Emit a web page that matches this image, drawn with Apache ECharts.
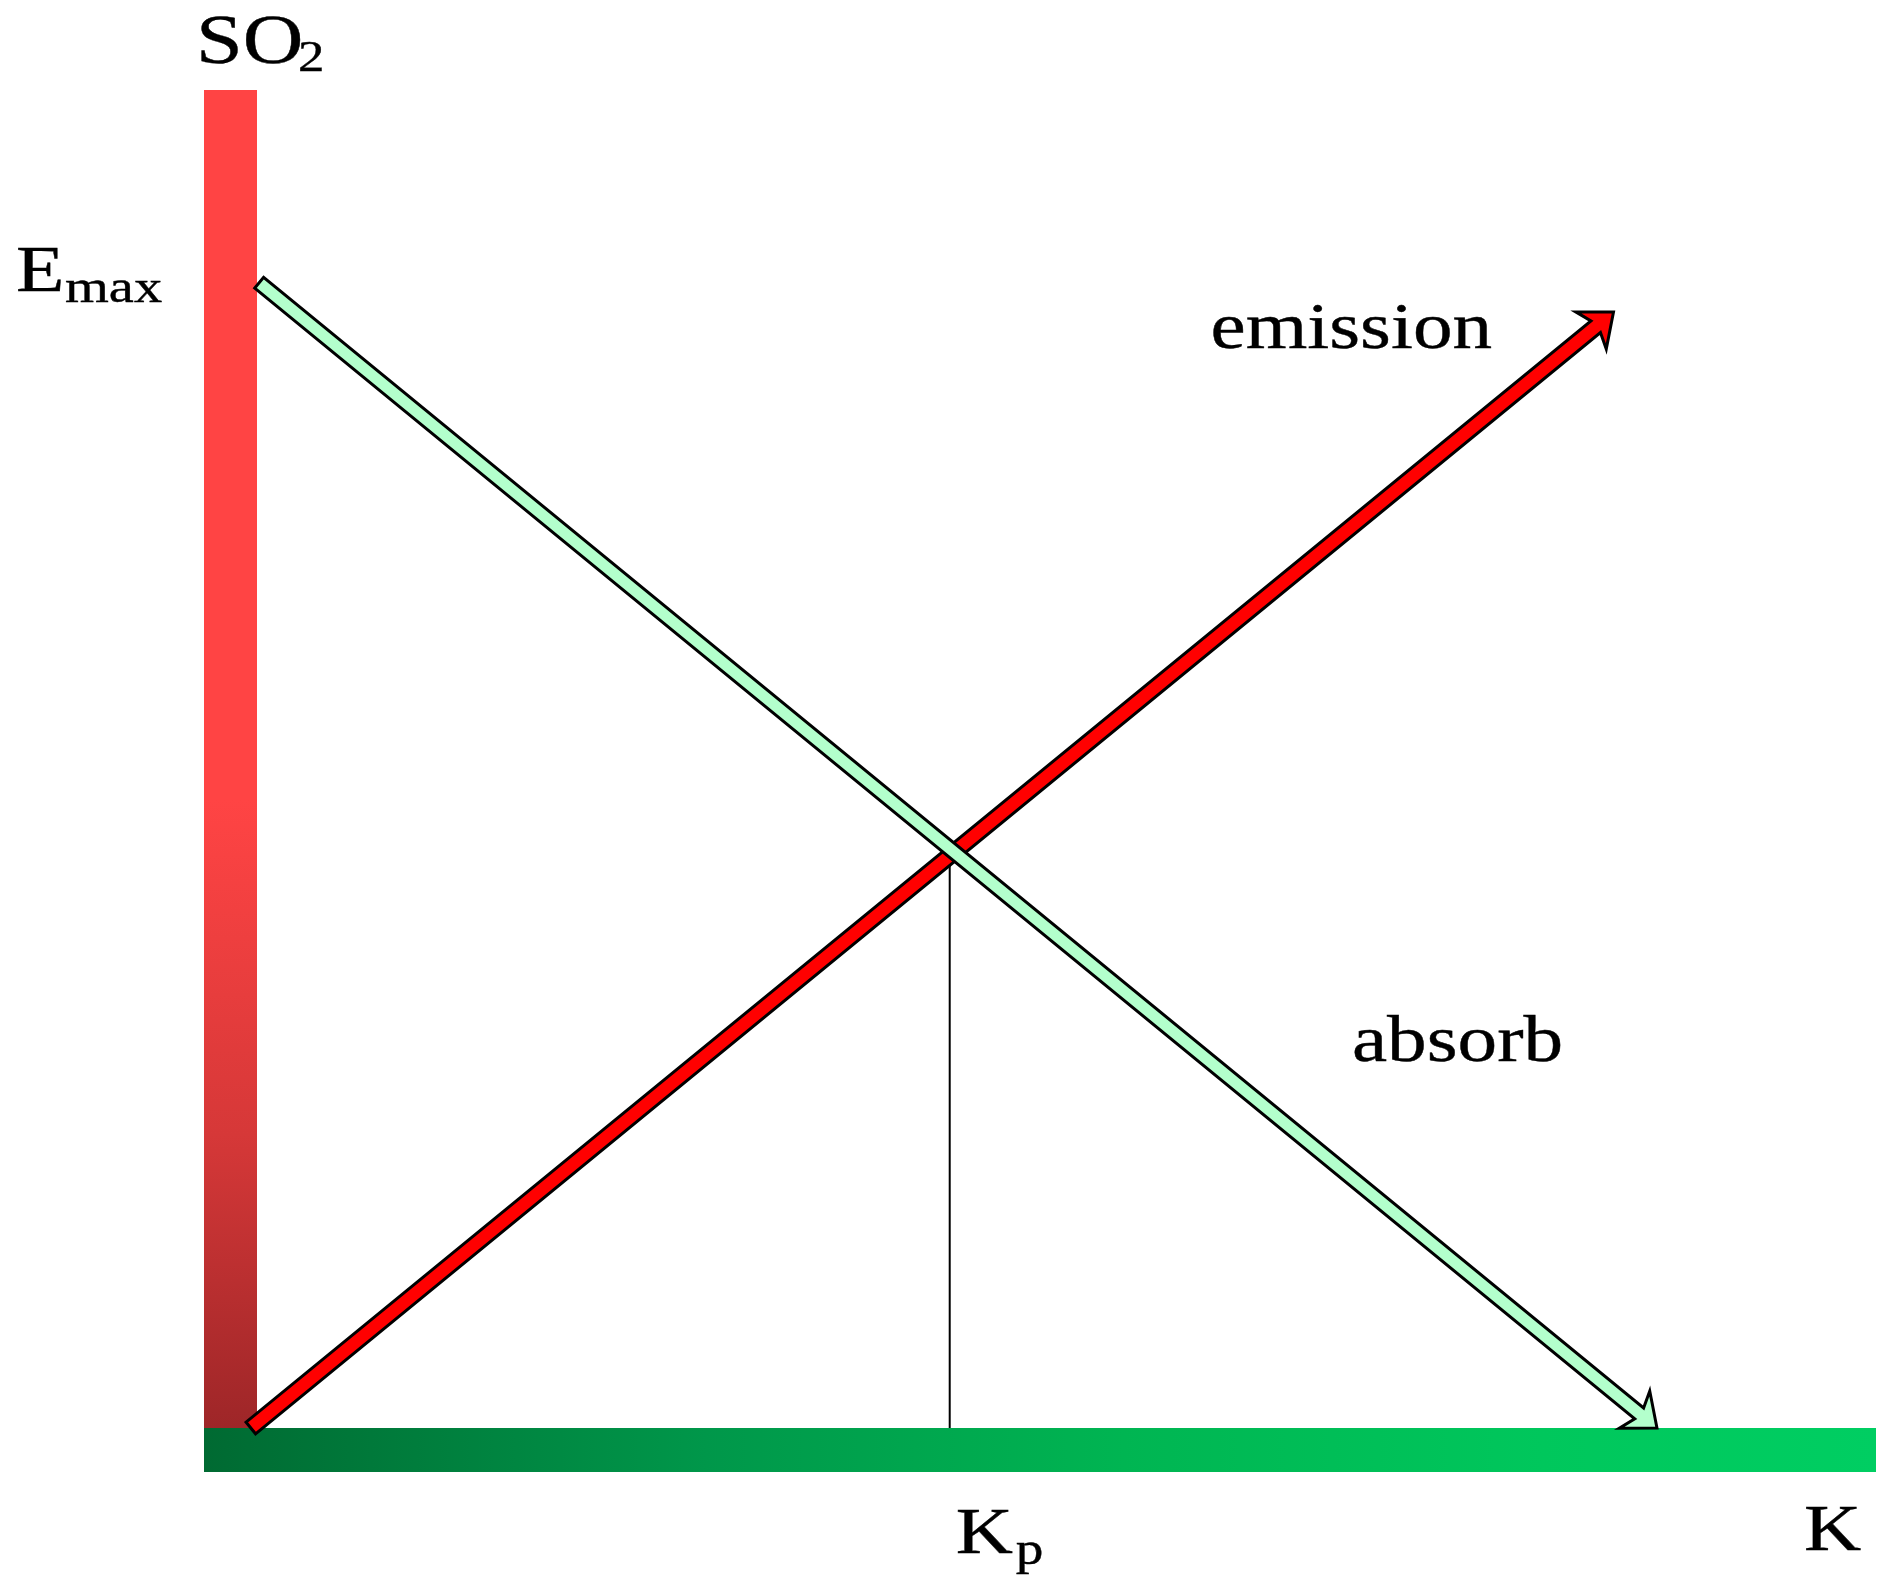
<!DOCTYPE html>
<html>
<head>
<meta charset="utf-8">
<script src="https://cdn.jsdelivr.net/npm/echarts@6/dist/echarts.min.js"></script>
<style>
  html, body { margin: 0; padding: 0; background: #fff; }
  #chartmain { width: 1896px; height: 1596px; }
</style>
</head>
<body>
<div id="chartmain"></div>
<script>
// data
var xRange = [0, 100];
var yRange = [0, 100];
var emissionLine = [[2.8, 0], [84.3, 83.4]];   // tail -> tip
var absorbLine = [[3.3, 85.6], [86.9, 0]];     // tail (Emax) -> tip
var kpValue = 44.6;
var yName = ['SO', '2'];
var xName = 'K';
var emaxLabel = ['E', 'max'];
var kpLabel = ['K', 'p'];
var seriesNames = ['emission', 'absorb'];

var FONT = '"Liberation Serif", "Times New Roman", serif';
var SX = 1.2; // text in the picture is a bit stretched sideways

// height of the emission line at K_p
function yAt(line, x) {
    var s = (line[1][1] - line[0][1]) / (line[1][0] - line[0][0]);
    return line[0][1] + s * (x - line[0][0]);
}

function txt(str, x, y, size) {
    // y is the baseline
    return {
        type: 'text', x: x, y: y - size * 0.3, scaleX: SX,
        style: {
            text: str, font: size + 'px ' + FONT, fill: '#000',
            stroke: '#000', lineWidth: 0.4,
            align: 'left', verticalAlign: 'middle'
        }
    };
}

function makeArrow(h) {
    return function (params, api) {
        var p1 = api.coord([api.value(0), api.value(1)]);
        var p2 = api.coord([api.value(2), api.value(3)]);
        var dx = p2[0] - p1[0], dy = p2[1] - p1[1];
        var len = Math.sqrt(dx * dx + dy * dy);
        var ux = dx / len, uy = dy / len;
        var nx = -uy, ny = ux;
        var L = 29, W = 24, neck = 23;
        function pt(back, side) {
            return [p2[0] - ux * back + nx * side, p2[1] - uy * back + ny * side];
        }
        var pts = [
            [p1[0] + nx * h, p1[1] + ny * h],
            pt(neck, h), pt(L, W), [p2[0], p2[1]], pt(L, -W), pt(neck, -h),
            [p1[0] - nx * h, p1[1] - ny * h]
        ];
        return {
            type: 'polygon',
            shape: { points: pts },
            style: { fill: api.visual('color'), stroke: '#000', lineWidth: 3, lineJoin: 'miter' }
        };
    };
}

option = {
    animation: false,
    backgroundColor: '#fff',
    grid: { left: 204, top: 90, width: 1672, height: 1338 },
    xAxis: { type: 'value', min: xRange[0], max: xRange[1], show: false },
    yAxis: { type: 'value', min: yRange[0], max: yRange[1], show: false },
    series: [
        {
            // the two thick axes
            type: 'custom', z: 1,
            data: [[0]],
            renderItem: function (params, api) {
                var o = api.coord([xRange[0], yRange[0]]);
                var top = api.coord([xRange[0], yRange[1]]);
                var right = api.coord([xRange[1], yRange[0]]);
                return {
                    type: 'group',
                    children: [
                        {
                            type: 'rect',
                            shape: { x: top[0], y: top[1], width: 53, height: o[1] - top[1] },
                            style: {
                                fill: new echarts.graphic.LinearGradient(0, 0, 0, 1, [
                                    { offset: 0, color: '#FF4444' },
                                    { offset: 0.53, color: '#FF4444' },
                                    { offset: 0.78, color: '#D63838' },
                                    { offset: 1, color: '#9E2628' }
                                ])
                            }
                        },
                        {
                            type: 'rect',
                            shape: { x: o[0], y: o[1], width: right[0] - o[0], height: 44 },
                            style: {
                                fill: new echarts.graphic.LinearGradient(0, 0, 1, 0, [
                                    { offset: 0, color: '#006A32' },
                                    { offset: 0.3, color: '#00974A' },
                                    { offset: 0.55, color: '#00B552' },
                                    { offset: 0.8, color: '#00C75C' },
                                    { offset: 1, color: '#00CE62' }
                                ])
                            }
                        }
                    ]
                };
            }
        },
        {
            // K_p drop line
            type: 'line', z: 2,
            symbol: 'none',
            data: [[kpValue, 0], [kpValue, yAt(emissionLine, kpValue)]],
            lineStyle: { color: '#000', width: 2 }
        },
        {
            name: seriesNames[0],
            type: 'custom', z: 3,
            itemStyle: { color: '#FF0000' },
            data: [emissionLine[0].concat(emissionLine[1])],
            renderItem: makeArrow(7.5)
        },
        {
            name: seriesNames[1],
            type: 'custom', z: 4,
            itemStyle: { color: '#B3FFCC' },
            data: [absorbLine[0].concat(absorbLine[1])],
            renderItem: makeArrow(7)
        },
        {
            // text labels
            type: 'custom', z: 5,
            data: [[0]],
            renderItem: function (params, api) {
                var top = api.coord([xRange[0], yRange[1]]);
                var emax = api.coord([xRange[0], absorbLine[0][1]]);
                var kpt = api.coord([kpValue, 0]);
                var kend = api.coord([xRange[1], 0]);
                var etip = api.coord(emissionLine[1]);
                var aend = api.coord(absorbLine[1]);
                return {
                    type: 'group',
                    children: [
                        txt(yName[0], top[0] - 8, top[1] - 24, 70),
                        txt(yName[1], top[0] + 94, top[1] - 17, 44),
                        txt(emaxLabel[0], emax[0] - 188, emax[1] + 11, 66),
                        txt(emaxLabel[1], emax[0] - 139, emax[1] + 21, 47),
                        txt(seriesNames[0], etip[0] - 403, etip[1] + 38, 66),
                        txt(seriesNames[1], aend[0] - 305, aend[1] - 365, 66),
                        txt(kpLabel[0], kpt[0] + 6, kpt[1] + 127, 66),
                        txt(kpLabel[1], kpt[0] + 66, kpt[1] + 138, 46),
                        txt(xName, kend[0] - 72, kend[1] + 124, 66)
                    ]
                };
            }
        }
    ]
};

var myChart = echarts.init(document.getElementById('chartmain'));
myChart.setOption(option);
</script>
</body>
</html>
